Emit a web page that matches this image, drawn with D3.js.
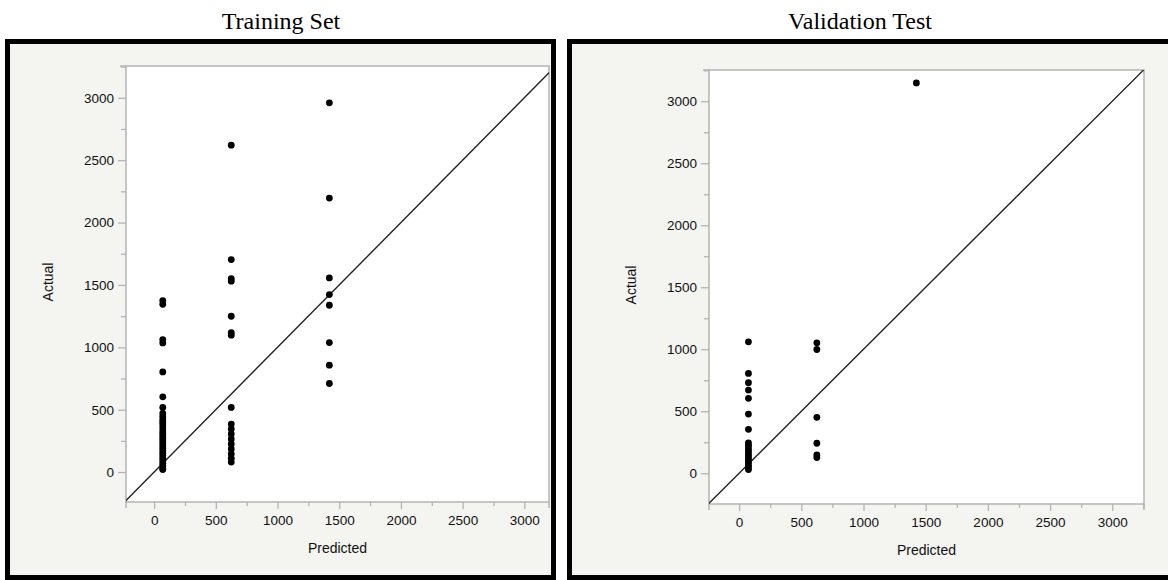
<!DOCTYPE html>
<html>
<head>
<meta charset="utf-8">
<script src="https://cdn.jsdelivr.net/npm/d3@7"></script>
<style>
  html, body { margin: 0; padding: 0; background: #ffffff; }
  svg { display: block; }
</style>
</head>
<body>
<svg id="chart" width="1168" height="580"></svg>
<script>
// ---- Data ----
const panelTitles = ["Training Set", "Validation Test"];
const xTickValues = [0, 500, 1000, 1500, 2000, 2500, 3000];
const yTickValues = [0, 500, 1000, 1500, 2000, 2500, 3000];
const minorTickValues = [250, 750, 1250, 1750, 2250, 2750, 3250];

const trainPredicted = [
  70,70,70,70,70,70,70,70,70,70,70,70,70,70,70,70,70,70,70,70,70,70,70,70,70,70,70,70,70,70,
  625,625,625,625,625,625,625,625,625,625,625,625,625,625,625,625,625,
  1420,1420,1420,1420,1420,1420,1420,1420
];
const trainActual = [
  1375,1345,1062,1035,803,603,518,470,445,420,400,380,355,330,310,290,270,250,230,210,190,170,150,130,110,90,70,50,30,20,
  2620,1703,1551,1530,1249,1117,1097,518,385,345,305,265,225,185,145,110,80,
  2960,2196,1556,1423,1337,1038,857,710
];

const validPredicted = [
  75,75,75,75,75,75,75,75,75,75,75,75,75,75,75,75,75,75,75,
  625,625,625,625,625,625,
  1425
];
const validActual = [
  1060,805,730,671,604,477,354,245,225,205,185,165,145,125,105,85,65,45,30,
  1052,998,451,242,147,126,
  3148
];

// ---- Layout ----
const svg = d3.select("#chart");

const panels = [
  {
    title: panelTitles[0], titleX: 281,
    box: {x: 7.5, y: 41.5, w: 546, h: 536},
    plot: {l: 126, r: 549, t: 66, b: 502},
    xDomain: [-228, 3200], yDomain: [-240, 3255],
    pred: trainPredicted, act: trainActual
  },
  {
    title: panelTitles[1], titleX: 860,
    box: {x: 569.5, y: 41.5, w: 640, h: 536},
    plot: {l: 709, r: 1144, t: 70, b: 504},
    xDomain: [-242, 3255], yDomain: [-248, 3252],
    pred: validPredicted, act: validActual
  }
];

panels.forEach(p => {
  const g = svg.append("g");

  // title
  g.append("text")
    .attr("x", p.titleX).attr("y", 29)
    .attr("text-anchor", "middle")
    .attr("font-family", "Liberation Serif, Times New Roman, serif")
    .attr("font-size", 24)
    .attr("fill", "#000")
    .text(p.title);

  // panel frame
  g.append("rect")
    .attr("x", p.box.x).attr("y", p.box.y)
    .attr("width", p.box.w).attr("height", p.box.h)
    .attr("fill", "#f4f4f0")
    .attr("stroke", "#000")
    .attr("stroke-width", 5);

  const x = d3.scaleLinear().domain(p.xDomain).range([p.plot.l, p.plot.r]);
  const y = d3.scaleLinear().domain(p.yDomain).range([p.plot.b, p.plot.t]);

  // plot area
  g.append("rect")
    .attr("x", p.plot.l).attr("y", p.plot.t)
    .attr("width", p.plot.r - p.plot.l).attr("height", p.plot.b - p.plot.t)
    .attr("fill", "#ffffff")
    .attr("stroke", "#b4b4b4")
    .attr("stroke-width", 1.5);

  // extra JMP-like frame stubs
  g.append("line")
    .attr("x1", p.plot.l - 6).attr("x2", p.plot.l)
    .attr("y1", p.plot.t).attr("y2", p.plot.t)
    .attr("stroke", "#b4b4b4").attr("stroke-width", 1.5);
  g.append("line")
    .attr("x1", p.plot.l).attr("x2", p.plot.l)
    .attr("y1", p.plot.b).attr("y2", p.plot.b + 6)
    .attr("stroke", "#b4b4b4").attr("stroke-width", 1.5);
  g.append("line")
    .attr("x1", p.plot.r).attr("x2", p.plot.r)
    .attr("y1", p.plot.b).attr("y2", p.plot.b + 6)
    .attr("stroke", "#b4b4b4").attr("stroke-width", 1.5);

  // axes
  const font = "Liberation Sans, Arial, Helvetica, sans-serif";
  const xMinor = minorTickValues.filter(v => v >= p.xDomain[0] && v <= p.xDomain[1]);
  const yMinor = minorTickValues.filter(v => v >= p.yDomain[0] && v <= p.yDomain[1]);

  const xAxis = g.append("g")
    .attr("transform", `translate(0,${p.plot.b})`)
    .call(d3.axisBottom(x).tickValues(xTickValues).tickSize(7).tickPadding(6).tickFormat(d3.format("d")));
  xAxis.select(".domain").remove();
  xAxis.selectAll(".tick line").attr("stroke", "#b4b4b4").attr("stroke-width", 1.3);
  xAxis.selectAll(".tick text").attr("font-family", font).attr("font-size", 13.5).attr("fill", "#111");

  const xAxisMinor = g.append("g")
    .attr("transform", `translate(0,${p.plot.b})`)
    .call(d3.axisBottom(x).tickValues(xMinor).tickSize(4).tickFormat(""));
  xAxisMinor.select(".domain").remove();
  xAxisMinor.selectAll(".tick line").attr("stroke", "#b4b4b4").attr("stroke-width", 1.3);

  const yAxis = g.append("g")
    .attr("transform", `translate(${p.plot.l},0)`)
    .call(d3.axisLeft(y).tickValues(yTickValues).tickSize(8).tickPadding(4).tickFormat(d3.format("d")));
  yAxis.select(".domain").remove();
  yAxis.selectAll(".tick line").attr("stroke", "#b4b4b4").attr("stroke-width", 1.3);
  yAxis.selectAll(".tick text").attr("font-family", font).attr("font-size", 13.5).attr("fill", "#111");

  const yAxisMinor = g.append("g")
    .attr("transform", `translate(${p.plot.l},0)`)
    .call(d3.axisLeft(y).tickValues(yMinor).tickSize(5).tickFormat(""));
  yAxisMinor.select(".domain").remove();
  yAxisMinor.selectAll(".tick line").attr("stroke", "#b4b4b4").attr("stroke-width", 1.3);

  // axis titles
  g.append("text")
    .attr("x", (p.plot.l + p.plot.r) / 2)
    .attr("y", p.plot.b + 51)
    .attr("text-anchor", "middle")
    .attr("font-family", font).attr("font-size", 14).attr("fill", "#111")
    .text("Predicted");
  g.append("text")
    .attr("transform", `translate(${p.plot.l - 73},${(p.plot.t + p.plot.b) / 2 - 2}) rotate(-90)`)
    .attr("text-anchor", "middle")
    .attr("font-family", font).attr("font-size", 14).attr("fill", "#111")
    .text("Actual");

  // clip path for plot
  const clipId = "clip" + p.plot.l;
  svg.append("defs").append("clipPath").attr("id", clipId)
    .append("rect")
    .attr("x", p.plot.l).attr("y", p.plot.t)
    .attr("width", p.plot.r - p.plot.l).attr("height", p.plot.b - p.plot.t);

  const inner = g.append("g").attr("clip-path", `url(#${clipId})`);

  // y = x diagonal line
  const lo = Math.min(p.xDomain[0], p.yDomain[0]);
  const hi = Math.max(p.xDomain[1], p.yDomain[1]);
  inner.append("line")
    .attr("x1", x(lo)).attr("y1", y(lo))
    .attr("x2", x(hi)).attr("y2", y(hi))
    .attr("stroke", "#222").attr("stroke-width", 1.4);

  // points
  const pts = p.pred.map((v, i) => ({px: v, ay: p.act[i]}));
  inner.selectAll("circle.pt").data(pts).enter().append("circle")
    .attr("class", "pt")
    .attr("cx", d => x(d.px))
    .attr("cy", d => y(d.ay))
    .attr("r", 3.4)
    .attr("fill", "#000");
});
</script>
</body>
</html>
